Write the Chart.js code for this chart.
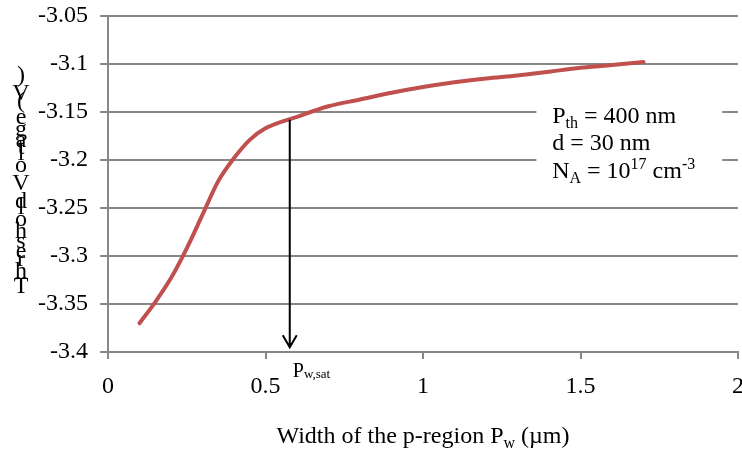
<!DOCTYPE html>
<html>
<head>
<meta charset="utf-8">
<script src="https://cdn.jsdelivr.net/npm/chart.js@4/dist/chart.umd.min.js"></script>
<style>
  html, body { margin: 0; padding: 0; background: #fff; overflow: hidden; }
  #wrap { width: 742px; height: 450px; }
</style>
</head>
<body>
<div id="wrap"><canvas id="vthChart"></canvas></div>
<script>
// --- data ---
const widthPw = [0.1, 0.15, 0.2, 0.25, 0.3, 0.35, 0.4, 0.45, 0.5, 0.6, 0.7, 0.8, 0.9, 1.0, 1.1, 1.2, 1.3, 1.4, 1.5, 1.6, 1.7];
const thresholdV = [-3.37, -3.348, -3.323, -3.292, -3.257, -3.222, -3.198, -3.179, -3.167, -3.155, -3.144, -3.137, -3.13, -3.124, -3.119, -3.115, -3.112, -3.108, -3.104, -3.101, -3.098];
const xTicks = [0, 0.5, 1, 1.5, 2];
const yTicks = [-3.4, -3.35, -3.3, -3.25, -3.2, -3.15, -3.1, -3.05];
const yTitle = "Threshold Voltage (V)";

// Pw,sat marker: arrow from the curve down to the axis
const pwSat = 0.577;
const pwSatV = -3.158;
const arrowTipV = -3.395;

const serif = "'Liberation Serif', 'Times New Roman', serif";
const gridGrey = "#878787";

// draws a run of [text, size, dy] pieces left to right
function drawRuns(ctx, x, y, runs) {
  runs.forEach(([txt, size, dy]) => {
    ctx.font = size + "px " + serif;
    ctx.fillText(txt, x, y + dy);
    x += ctx.measureText(txt).width;
  });
  return x;
}
function runsWidth(ctx, runs) {
  let w = 0;
  runs.forEach(([txt, size]) => {
    ctx.font = size + "px " + serif;
    w += ctx.measureText(txt).width;
  });
  return w;
}

const extras = {
  id: "extras",
  afterDatasetsDraw(chart) {
    const { ctx, chartArea, scales } = chart;
    const x = scales.x, y = scales.y;
    ctx.save();
    ctx.fillStyle = "#000";
    ctx.textBaseline = "alphabetic";
    ctx.textAlign = "left";

    // text box (white, hides the grid lines behind it)
    const bx0 = x.getPixelForValue(1.36), bx1 = x.getPixelForValue(1.95);
    const by0 = y.getPixelForValue(-3.14), by1 = y.getPixelForValue(-3.225);
    ctx.fillStyle = "#fff";
    ctx.fillRect(bx0, by0, bx1 - bx0, by1 - by0);
    ctx.fillStyle = "#000";
    const tx = x.getPixelForValue(1.41);
    const ty = y.getPixelForValue(-3.161);
    drawRuns(ctx, tx, ty, [["P", 24, 0], ["th", 16, 5], [" = 400 nm", 24, 0]]);
    drawRuns(ctx, tx, ty + 27, [["d = 30 nm", 24, 0]]);
    drawRuns(ctx, tx, ty + 55, [["N", 24, 0], ["A", 16, 5], [" = 10", 24, 0], ["17", 16, -9], [" cm", 24, 0], ["-3", 16, -9]]);

    // arrow
    const ax = x.getPixelForValue(pwSat);
    const ay0 = y.getPixelForValue(pwSatV);
    const ay1 = y.getPixelForValue(arrowTipV);
    ctx.strokeStyle = "#000";
    ctx.lineWidth = 2;
    ctx.beginPath();
    ctx.moveTo(ax, ay0);
    ctx.lineTo(ax, ay1);
    ctx.moveTo(ax - 7, ay1 - 12);
    ctx.lineTo(ax, ay1);
    ctx.lineTo(ax + 7, ay1 - 12);
    ctx.stroke();

    // Pw,sat label
    drawRuns(ctx, ax + 3, chartArea.bottom + 25, [["P", 20, 0], ["w,sat", 13, 1]]);

    // x axis title
    const xt = [["Width of the p-region P", 24, 0], ["w", 16, 5], [" (\u00b5m)", 24, 0]];
    const cx = (chartArea.left + chartArea.right) / 2;
    drawRuns(ctx, cx - runsWidth(ctx, xt) / 2, 443, xt);

    // y axis title: upright letters stacked bottom to top
    ctx.font = "24px " + serif;
    ctx.textAlign = "center";
    let yy = 293;
    for (const ch of yTitle) {
      const w = ctx.measureText(ch).width;
      ctx.fillText(ch, 21, yy);
      yy -= w;
    }
    ctx.restore();
  }
};

new Chart(document.getElementById("vthChart"), {
  type: "line",
  data: {
    datasets: [{
      label: "Threshold voltage",
      data: widthPw.map((v, i) => ({ x: v, y: thresholdV[i] })),
      borderColor: "#C0504D",
      borderWidth: 4,
      pointRadius: 0,
      fill: false,
      cubicInterpolationMode: "monotone",
      borderCapStyle: "round",
    }],
  },
  options: {
    responsive: true,
    maintainAspectRatio: false,
    animation: false,
    layout: { padding: { top: 16, right: 4, left: 0, bottom: 0 } },
    plugins: { legend: { display: false }, tooltip: { enabled: false } },
    scales: {
      x: {
        type: "linear",
        min: 0,
        max: 2,
        afterBuildTicks: (s) => { s.ticks = xTicks.map((v) => ({ value: v })); },
        afterFit: (s) => {
          s.height = 98;
          s.paddingLeft = 0;
          s.paddingRight = 0;
        },
        grid: { drawOnChartArea: false, drawTicks: true, tickLength: 7, color: gridGrey, lineWidth: 2 },
        border: { display: true, color: gridGrey, width: 2 },
        ticks: {
          padding: 13,
          maxRotation: 0,
          color: "#000",
          font: { family: serif, size: 24 },
          callback: (v) => String(v),
        },
      },
      y: {
        type: "linear",
        min: -3.4,
        max: -3.05,
        afterBuildTicks: (s) => { s.ticks = yTicks.map((v) => ({ value: v })); },
        afterFit: (s) => {
          s.width = 108;
          s.paddingTop = 0;
          s.paddingBottom = 0;
        },
        grid: { drawTicks: true, tickLength: 8, color: gridGrey, lineWidth: 2 },
        border: { display: true, color: gridGrey, width: 2 },
        ticks: {
          padding: 12,
          color: "#000",
          font: { family: serif, size: 24 },
          callback: (v) => String(Math.round(v * 100) / 100),
        },
      },
    },
  },
  plugins: [extras],
});
</script>
</body>
</html>
